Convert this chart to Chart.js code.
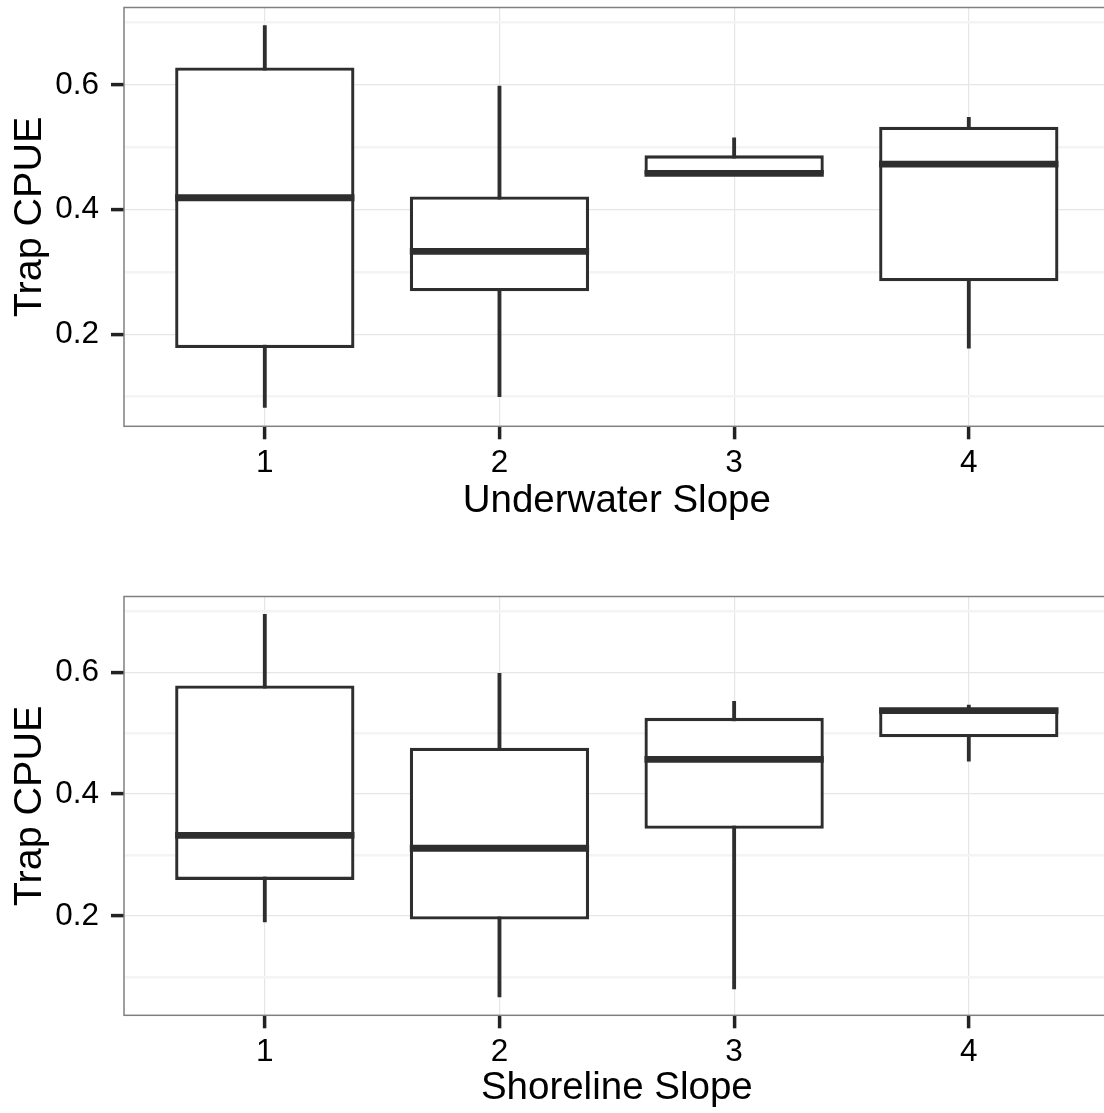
<!DOCTYPE html>
<html>
<head>
<meta charset="utf-8">
<script src="https://cdn.jsdelivr.net/npm/chart.js@4"></script>
<style>
  html, body { margin: 0; padding: 0; overflow: hidden; background: #fff; }
  .panel { position: absolute; left: 0; }
</style>
</head>
<body>
<canvas id="top" class="panel" width="1112" height="540" style="top:0px"></canvas>
<canvas id="bottom" class="panel" width="1112" height="540" style="top:589px"></canvas>
<script>
const slopeLevels = [1, 2, 3, 4];
const yTicks = [0.1, 0.2, 0.3, 0.4, 0.5, 0.6, 0.7];
const yLabelTicks = [0.2, 0.4, 0.6];

// underwater slope boxes
const underwaterMin = [0.083, 0.100, 0.457, 0.178];
const underwaterQ1 = [0.178, 0.269, 0.457, 0.285];
const underwaterMedian = [0.419, 0.333, 0.458, 0.473];
const underwaterQ3 = [0.628, 0.421, 0.487, 0.533];
const underwaterMax = [0.695, 0.598, 0.515, 0.548];
const underwaterRange = [0.0526, 0.724];

// shoreline slope boxes
const shorelineMin = [0.190, 0.067, 0.080, 0.454];
const shorelineQ1 = [0.259, 0.194, 0.343, 0.493];
const shorelineMedian = [0.332, 0.311, 0.457, 0.537];
const shorelineQ3 = [0.578, 0.476, 0.525, 0.541];
const shorelineMax = [0.695, 0.598, 0.552, 0.546];
const shorelineRange = [0.0368, 0.7242];

const FONT = "'Liberation Sans', Arial, Helvetica, sans-serif";
const LINE = "#2e2e2e";

function isMajor(v) {
  return yLabelTicks.some(t => Math.abs(t - v) < 1e-6);
}
// scriptable options get called without a tick sometimes
function majorCtx(c) {
  return !c.tick || isMajor(c.tick.value);
}

// median bars + panel border, placed with the chart's own scales
const boxExtras = {
  id: "boxExtras",
  afterDatasetsDraw(chart, args, opts) {
    const ctx = chart.ctx;
    const y = chart.scales.y;
    const boxMeta = chart.getDatasetMeta(0);
    const area = chart.chartArea;
    ctx.save();
    ctx.strokeStyle = LINE;
    ctx.lineWidth = 6.8;
    opts.medians.forEach(function (m, i) {
      const bar = boxMeta.data[i];
      const py = y.getPixelForValue(m);
      ctx.beginPath();
      ctx.moveTo(bar.x - bar.width / 2, py);
      ctx.lineTo(bar.x + bar.width / 2, py);
      ctx.stroke();
    });
    ctx.strokeStyle = "#808080";
    ctx.lineWidth = 1.5;
    ctx.strokeRect(area.left, area.top, area.right - area.left, area.bottom - area.top);
    ctx.restore();
  }
};

function makePanel(id, xTitle, mins, q1, med, q3, maxs, range, titlePad) {
  const boxes = slopeLevels.map((lv, i) => ({ x: lv, y: [q1[i], q3[i]] }));
  const whiskers = slopeLevels.map((lv, i) => ({ x: lv, y: [mins[i], maxs[i]] }));

  return new Chart(document.getElementById(id), {
    type: "bar",
    data: {
      datasets: [
        {
          data: boxes,
          backgroundColor: "#ffffff",
          borderColor: LINE,
          borderWidth: 3.3,
          borderSkipped: false,
          grouped: false,
          categoryPercentage: 1,
          barPercentage: 0.764
        },
        {
          data: whiskers,
          backgroundColor: LINE,
          borderWidth: 0,
          grouped: false,
          barThickness: 3.2
        }
      ]
    },
    options: {
      responsive: false,
      animation: false,
      devicePixelRatio: 1,
      layout: { padding: { top: 7.5, right: 2.4, bottom: 0, left: 0 } },
      plugins: {
        legend: { display: false },
        tooltip: { enabled: false },
        boxExtras: { medians: med }
      },
      scales: {
        x: {
          type: "linear",
          min: 0.4,
          max: 4.6,
          offset: false,
          afterBuildTicks: s => { s.ticks = slopeLevels.map(v => ({ value: v })); },
          afterFit: s => { s.height = 113.7; },
          border: { display: false },
          grid: {
            offset: false,
            color: "#e6e6e6",
            lineWidth: 1.2,
            tickLength: 13,
            tickColor: "#222",
            tickWidth: 3.5
          },
          ticks: {
            color: "#000",
            padding: 5,
            maxRotation: 0,
            font: { family: FONT, size: 31.5 },
            callback: v => String(v)
          },
          title: {
            display: true,
            text: xTitle,
            color: "#000",
            font: { family: FONT, size: 38.5 },
            padding: { top: 0, bottom: titlePad }
          }
        },
        y: {
          type: "linear",
          min: range[0],
          max: range[1],
          afterBuildTicks: s => { s.ticks = yTicks.map(v => ({ value: v })); },
          afterFit: s => {
            s.width = 124;
            // keep the panel edge where the layout padding puts it
            s.paddingTop = 0;
            s.paddingBottom = 0;
          },
          border: { display: false },
          grid: {
            color: c => majorCtx(c) ? "#e6e6e6" : "#f4f4f4",
            lineWidth: c => majorCtx(c) ? 1.2 : 2.5,
            tickLength: 13,
            tickColor: c => majorCtx(c) ? "#222" : "rgba(0,0,0,0)",
            tickWidth: 3.5
          },
          ticks: {
            color: "#000",
            padding: 12,
            font: c => ({ family: FONT, size: majorCtx(c) ? 31.5 : 1 }),
            callback: v => isMajor(v) ? v.toFixed(1) : ""
          },
          title: {
            display: true,
            text: "Trap CPUE",
            color: "#000",
            font: { family: FONT, size: 39.5 },
            padding: { top: 6, bottom: 0 }
          }
        }
      }
    },
    plugins: [boxExtras]
  });
}

makePanel("top", "Underwater Slope", underwaterMin, underwaterQ1, underwaterMedian,
  underwaterQ3, underwaterMax, underwaterRange, 15.5);
makePanel("bottom", "Shoreline Slope", shorelineMin, shorelineQ1, shorelineMedian,
  shorelineQ3, shorelineMax, shorelineRange, 18);
</script>
</body>
</html>
